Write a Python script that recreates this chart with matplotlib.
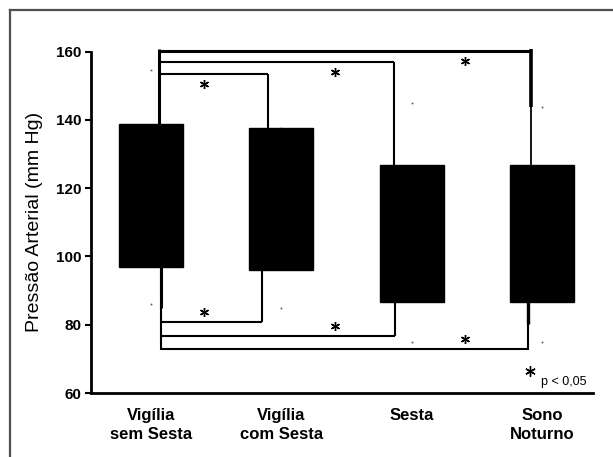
import matplotlib
matplotlib.use("Agg")
import matplotlib.pyplot as plt
from matplotlib.patches import Rectangle
from matplotlib.lines import Line2D

plt.rcParams['font.family'] = ['Liberation Sans', 'DejaVu Sans']

# --- data -----------------------------------------------------------------
categories = ["Vigília\nsem Sesta", "Vigília\ncom Sesta", "Sesta", "Sono\nNoturno"]
box_top = [138.7, 137.7, 126.8, 126.8]
box_bottom = [96.9, 96.1, 86.7, 86.7]
whisker_hi = [154.6, 137.7, 145.1, 143.9]
whisker_lo = [86.1, 84.9, 74.9, 74.9]

# comparisons against the first group (significant, p < 0.05)
compare_to = [1, 2, 3]
upper_levels = [153.5, 157.0, 160.3]
lower_levels = [80.9, 76.8, 72.9]
yticks = [60, 80, 100, 120, 140, 160]

# --- figure ---------------------------------------------------------------
fig = plt.figure(figsize=(6.13, 4.57), dpi=100)
ax = fig.add_axes([0.148, 0.140, 0.819, 0.747])

# outer frame (left + top edges)
fig.add_artist(Line2D([10 / 613, 10 / 613], [0, 1 - 10 / 457],
                      transform=fig.transFigure, color='#505050', lw=1.6))
fig.add_artist(Line2D([10 / 613, 1], [1 - 10 / 457, 1 - 10 / 457],
                      transform=fig.transFigure, color='#505050', lw=1.6))

width = 0.49
for i in range(len(categories)):
    ax.add_patch(Rectangle((i - width / 2, box_bottom[i]), width,
                           box_top[i] - box_bottom[i],
                           facecolor='black', edgecolor='black', zorder=3))
    ax.plot([i, i], [whisker_hi[i], whisker_lo[i]], ls='none', marker='s',
            ms=1.2, color='#555555', mew=0)


def seg(xs, ys, w):
    ax.plot(xs, ys, color='black', lw=w, solid_capstyle='butt', clip_on=False)


def star(x, y, size=6.5):
    ax.plot(x, y, ls='none', marker=(6, 2, 0), ms=size, mew=1.0, color='black',
            clip_on=False)


lw = 1.5
left_up = 0.065
left_dn = 0.077
right_up = [-0.105, -0.14, -0.09]
right_dn = [-0.147, -0.126, -0.107]

# upper brackets
seg([left_up, left_up], [box_top[0], upper_levels[-1] + 0.4], 2.2)
for k, j in enumerate(compare_to):
    xr = j + right_up[k]
    lev = upper_levels[k]
    seg([left_up, xr], [lev, lev], 2.2 if k == 2 else lw)
    seg([xr, xr], [lev, box_top[j]], lw if k < 2 else 1.3)
    if k == 2:
        seg([xr, xr], [lev + 0.4, whisker_hi[j]], 2.6)
    star(j - 0.59, lev - 2.9)

# lower brackets
seg([left_dn, left_dn], [box_bottom[0], lower_levels[-1] - 0.2], lw)
seg([left_dn, left_dn], [box_bottom[0], whisker_lo[0] - 1.3], 2.2)
for k, j in enumerate(compare_to):
    xr = j + right_dn[k]
    lev = lower_levels[k]
    seg([left_dn, xr], [lev, lev], lw)
    seg([xr, xr], [lev - 0.2, box_bottom[j]], lw)
    if k == 2:
        seg([xr, xr], [80.3, box_bottom[j]], 2.4)
    star(j - 0.59, lev + 2.8)

# significance note
star(2.905, 66.4, size=7.5)
ax.text(2.99, 62.3, "p < 0,05", fontsize=9, ha='left', va='baseline')

# axes styling
ax.set_xlim(-0.462, 3.387)
ax.set_ylim(60, 160)
ax.set_yticks(yticks)
ax.set_yticklabels([str(t) for t in yticks], fontsize=11, fontweight='bold')
ax.set_xticks(range(len(categories)))
ax.set_xticklabels(categories, fontsize=12, fontweight='bold', linespacing=1.35)
ax.tick_params(axis='x', length=0, pad=11)
ax.tick_params(axis='y', length=4, width=1.5, pad=3, direction='out')
for s in ('top', 'right'):
    ax.spines[s].set_visible(False)
for s in ('left', 'bottom'):
    ax.spines[s].set_linewidth(2)
ax.set_ylabel("Pressão Arterial (mm Hg)", fontsize=14, labelpad=9)

fig.savefig("out.png", dpi=100)
